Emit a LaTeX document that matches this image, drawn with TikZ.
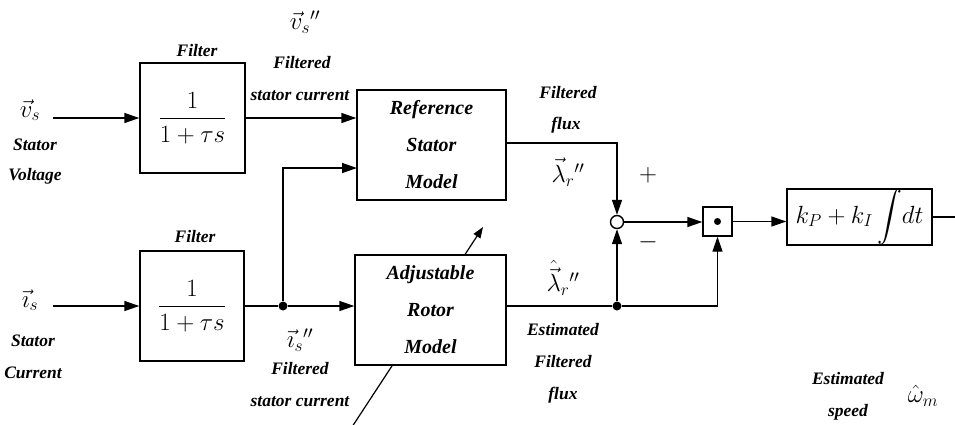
\documentclass[tikz,border=0pt]{standalone}
\usepackage{amsmath}
\usepackage{fontspec}
\setmainfont{Liberation Serif}
\usetikzlibrary{arrows.meta}
\begin{document}
\begin{tikzpicture}[x=1pt,y=-1pt,
  every node/.style={inner sep=0pt},
  wire/.style={line width=1.4pt},
  arr/.style={line width=1.4pt,-{Triangle[length=15pt,width=10pt]}},
  adjarr/.style={line width=1.2pt,-{Triangle[length=11pt,width=8pt]}},
  blk/.style={draw,line width=1.4pt,fill=white,minimum width=#1,minimum height=110pt},
  blk/.default=150pt,
  lab/.style={font=\fontsize{17.5}{20}\selectfont\bfseries\itshape},
  btxt/.style={font=\fontsize{20}{37}\selectfont\bfseries\itshape,align=center},
  mth/.style={font=\fontsize{25}{30}\selectfont},
  dot/.style={circle,fill=black,minimum size=9pt},
]
\useasboundingbox (0,0) rectangle (955,424);
% adjustment arrow across the rotor model
\coordinate (adjlo) at (350,430);
\coordinate (adjhi) at (483,227);
\draw[adjarr] (adjlo) -- (adjhi);

% blocks
\node[blk=105pt,mth] (f1) at (192.5,118) {$\dfrac{1}{1+\tau s}$};
\node[blk=104pt,mth] (f2) at (192,306) {$\dfrac{1}{1+\tau s}$};
\node[blk=149pt,btxt] (ref) at (431.5,145) {Reference\\Stator\\Model};
\node[blk=151pt,btxt] (adj) at (430.5,310) {Adjustable\\Rotor\\Model};
\node[circle,draw,line width=1.4pt,fill=white,minimum size=13pt] (sum) at (617,222) {};
\node[draw,line width=1.4pt,fill=white,minimum size=29pt] (mul) at (717.5,221.5) {};
\node[circle,fill=black,minimum size=7pt] (muldot) at (mul.center) {};
\node[draw,line width=1.4pt,fill=white,minimum width=145pt,minimum height=56pt,mth] (pi) at (859.5,217) {$k_P + k_I \displaystyle\int\! dt$};

% inputs
\node[mth] (vin) at (30,110) {$\vec{v}_s$};
\node[mth] (iin) at (30,300) {$\vec{\imath}_s$};
\coordinate (vstart) at (53,118);
\coordinate (istart) at (53,306);
\draw[arr] (vstart) -- (f1.west |- vstart);
\draw[arr] (istart) -- (f2.west |- istart);

% filtered signals
\draw[arr] (f1.east |- vstart) -- (ref.west |- vstart);
\node[dot] (j1) at (283,306) {};
\coordinate (refin2) at (357,168);
\draw[wire] (f2.east |- istart) -- (j1);
\draw[arr] (j1) -- (adj.west |- j1);
\draw[arr] (j1) -- (j1 |- refin2) -- (refin2);

% flux paths
\coordinate (refout) at (506,143);
\draw[arr] (refout) -- (sum.center |- refout) -- (sum.north);
\node[dot] (j2) at (617,306) {};
\draw[wire] (adj.east |- j2) -- (j2);
\draw[arr] (j2) -- (sum.south);
\draw[arr] (j2) -- (mul.south |- j2) -- (mul.south);
\draw[arr] (sum.east) -- (mul.west |- sum.east);
\draw[arr] (mul.east) -- (pi.west |- mul.east);
\coordinate (outend) at (956,217);
\draw[wire] (pi.east) -- (outend);

% labels
\node[lab] (lf1) at (197,51) {Filter};
\node[lab] (lf2) at (195,237) {Filter};
\node[mth] (lvs) at (305,22) {$\vec{v}_s{}''$};
\node[lab] (lvs1) at (302,63) {Filtered};
\node[lab] (lvs2) at (300,96) {stator current};
\node[lab] (lsv1) at (35,145) {Stator};
\node[lab] (lsv2) at (35,176) {Voltage};
\node[lab] (lsc1) at (33,341) {Stator};
\node[lab] (lsc2) at (33,373) {Current};
\node[mth] (lis) at (300,340) {$\vec{\imath}_s{}''$};
\node[lab] (lis1) at (300,369) {Filtered};
\node[lab] (lis2) at (300,402) {stator current};
\node[lab] (lff1) at (568,93) {Filtered};
\node[lab] (lff2) at (566,125) {flux};
\node[mth] (llam) at (568,172) {$\vec{\lambda}_r{}''$};
\node[mth] (lplus) at (648,175) {$+$};
\node[mth] (lminus) at (648,242) {$-$};
\node[mth] (llamh) at (563,278) {$\hat{\vec{\lambda}}_r{}''$};
\node[lab] (lef1) at (563,330) {Estimated};
\node[lab] (lef2) at (563,362) {Filtered};
\node[lab] (lef3) at (563,395) {flux};
\node[lab] (les1) at (848,379) {Estimated};
\node[lab] (les2) at (848,412) {speed};
\node[mth] (lom) at (923,396) {$\hat{\omega}_m$};
\end{tikzpicture}
\end{document}
